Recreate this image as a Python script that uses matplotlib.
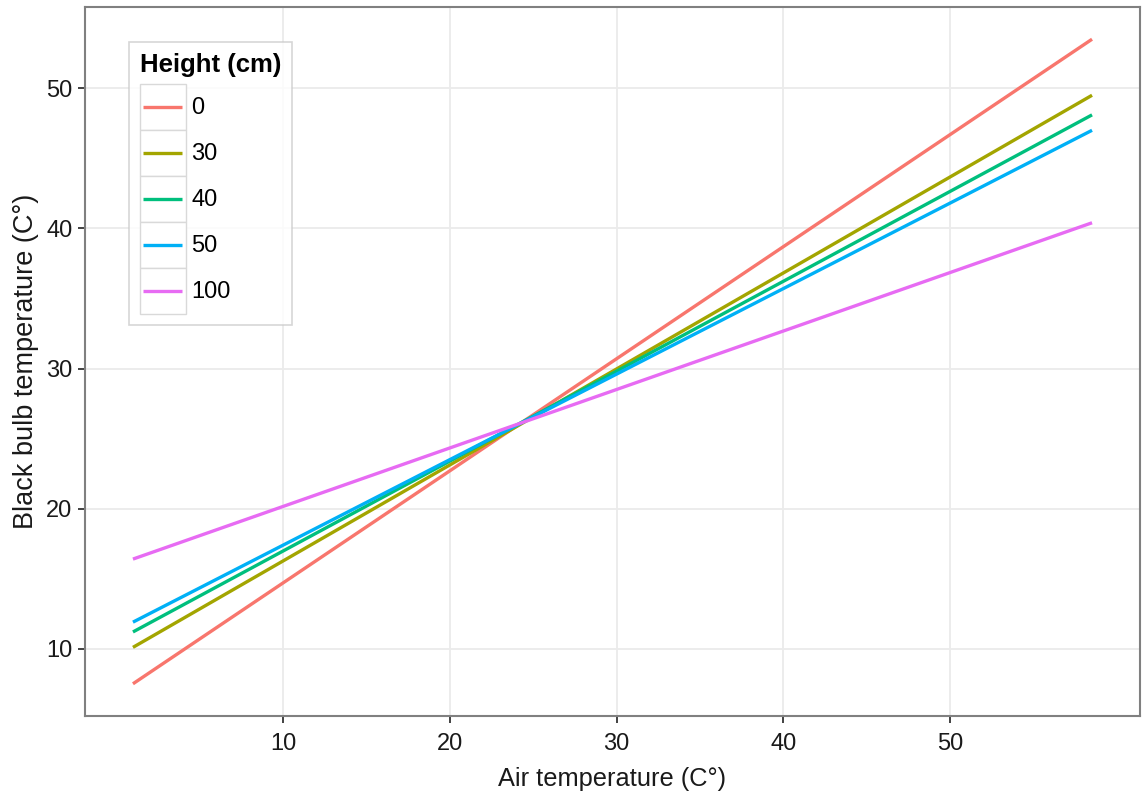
import matplotlib
matplotlib.use("Agg")
import matplotlib.pyplot as plt
from matplotlib.legend_handler import HandlerBase
from matplotlib.lines import Line2D
from matplotlib.patches import Rectangle

plt.rcParams['font.family'] = ['Liberation Sans', 'DejaVu Sans']

# Data
heights = ['0', '30', '40', '50', '100']
air_temp = [1.0, 58.5]
bb_0 = [7.5, 53.5]
bb_30 = [10.1, 49.5]
bb_40 = [11.2, 48.1]
bb_50 = [11.9, 47.0]
bb_100 = [16.4, 40.4]
series = [bb_0, bb_30, bb_40, bb_50, bb_100]
colors = ['#F8766D', '#A3A500', '#00BF7D', '#00B0F6', '#E76BF3']
x_ticks = [10, 20, 30, 40, 50]
y_ticks = [10, 20, 30, 40, 50]


class BoxedLineHandler(HandlerBase):
    def create_artists(self, legend, orig_handle, xdescent, ydescent,
                       width, height, fontsize, trans):
        rect = Rectangle((-xdescent, -ydescent), width, height,
                         facecolor='white', edgecolor='#D9D9D9',
                         linewidth=1.0, transform=trans)
        yc = -ydescent + height / 2
        inset = 0.07 * width
        line = Line2D([-xdescent + inset, -xdescent + width - inset], [yc, yc],
                      color=orig_handle.get_color(), linewidth=2.4,
                      solid_capstyle='butt', transform=trans)
        return [rect, line]


fig = plt.figure(figsize=(11.44, 8.02), dpi=100)
ax = fig.add_axes([0.0743, 0.1072, 0.9222, 0.8841])

for lab, ys, c in zip(heights, series, colors):
    ax.plot(air_temp, ys, color=c, linewidth=2.4, label=lab, solid_capstyle='butt')

xr = air_temp[1] - air_temp[0]
ax.set_xlim(air_temp[0] - 0.05 * xr, air_temp[1] + 0.05 * xr)
allv = [v for s in series for v in s]
yr = max(allv) - min(allv)
ax.set_ylim(min(allv) - 0.05 * yr, max(allv) + 0.05 * yr)

ax.set_xticks(x_ticks)
ax.set_yticks(y_ticks)
ax.grid(True, color='#EBEBEB', linewidth=1.3)
ax.set_axisbelow(True)
for sp in ax.spines.values():
    sp.set_color('#808080')
    sp.set_linewidth(1.5)
ax.tick_params(axis='both', colors='#333333', labelsize=17, length=5, width=1.3,
               labelcolor='#1a1a1a')
ax.tick_params(axis='x', pad=7)
ax.tick_params(axis='y', pad=4)
ax.set_xlabel('Air temperature (C°)', fontsize=18.3, color='#1a1a1a', labelpad=9)
ax.set_ylabel('Black bulb temperature (C°)', fontsize=19.5, color='#1a1a1a', labelpad=5)

fs = 17
fpx = fs * 100 / 72
leg = ax.legend(title='Height (cm)', loc='upper left',
                bbox_to_anchor=((129 - 85) / 1055, 1 - (42 - 7) / 709),
                fontsize=fs, title_fontsize=18.5, frameon=True, fancybox=False,
                handlelength=46 / fpx, handleheight=2.62,
                labelspacing=0, handletextpad=0.25, borderpad=0.45,
                borderaxespad=0,
                handler_map={Line2D: BoxedLineHandler()})
leg.get_title().set_fontweight('bold')
leg._legend_box.align = 'left'
leg._legend_box.sep = 5.5
leg.get_frame().set_edgecolor('#CCCCCC')
leg.get_frame().set_linewidth(1.2)

fig.savefig('out.png', dpi=100)
